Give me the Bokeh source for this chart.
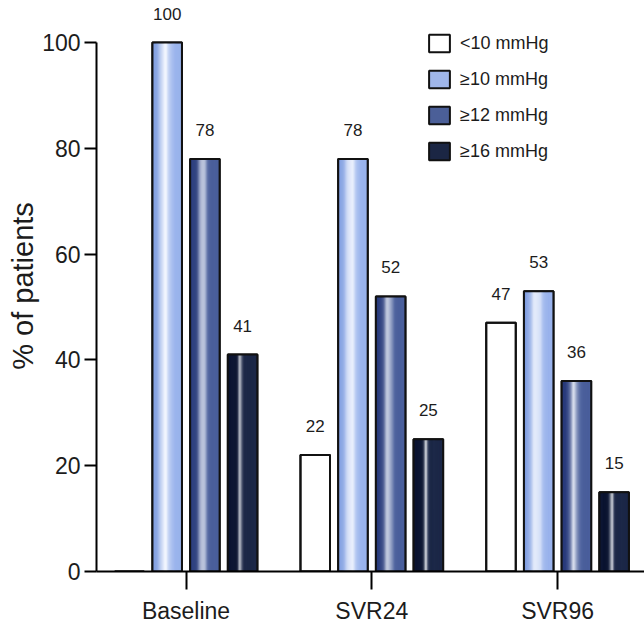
import numpy as np
from bokeh.plotting import figure
from bokeh.models import ColumnDataSource, Legend, LegendItem, LabelSet, FixedTicker, Range1d
from bokeh.core.properties import value
from bokeh.embed import file_html
from bokeh.resources import INLINE

# ---------------- data ----------------
groups = ["Baseline", "SVR24", "SVR96"]
series = ["<10 mmHg", "\u226510 mmHg", "\u226512 mmHg", "\u226516 mmHg"]
lt10 = [0, 22, 47]
ge10 = [100, 78, 53]
ge12 = [78, 52, 36]
ge16 = [41, 25, 15]
y_ticks = [0, 20, 40, 60, 80, 100]

values = [lt10, ge10, ge12, ge16]

# ---------------- style ----------------
FONT = "Liberation Sans"
TXT = "#1c1c1c"
pitch = 0.203
bw = 0.159
offsets = [(i - 1.5) * pitch for i in range(4)]
# (left edge, highlight, right edge, sigma)  None -> plain white
shades = [
    None,
    ("#7b9ae0", "#f2f6fe", "#98b2ec", 0.20),
    ("#27397a", "#d6dcec", "#4a5f9c", 0.14),
    ("#0a1330", "#c6cad4", "#1c2848", 0.07),
]
legend_cols = ["#ffffff", "#9fb6ea", "#4b5f98", "#1b2644"]
K = 26
t0 = 0.42


def hex2rgb(h):
    h = h.lstrip("#")
    return np.array([int(h[i:i + 2], 16) for i in (0, 2, 4)], dtype=float)


def rgb2hex(c):
    c = np.clip(np.round(c), 0, 255).astype(int)
    return "#%02x%02x%02x" % tuple(c)


p = figure(width=644, height=633, output_backend="svg", toolbar_location=None,
           x_range=Range1d(-0.482, 2.468), y_range=Range1d(0, 107.94),
           min_border_left=96, min_border_top=0, min_border_bottom=62,
           min_border_right=0)
p.outline_line_color = None
p.xgrid.visible = False
p.ygrid.visible = False
p.background_fill_color = "white"

legend_items = []
for si, (vals, off) in enumerate(zip(values, offsets)):
    xs = [gi + off for gi in range(len(groups))]
    src = ColumnDataSource(dict(x=xs, top=vals))
    # base renderer (used for legend)
    r = p.vbar(x="x", top="top", width=bw, source=src, fill_color=legend_cols[si],
               line_color="#111111", line_width=2)
    legend_items.append(LegendItem(label=series[si], renderers=[r]))
    sh = shades[si]
    if sh is not None:
        left, hi, right, sig = hex2rgb(sh[0]), hex2rgb(sh[1]), hex2rgb(sh[2]), sh[3]
        sx, stop, scol = [], [], []
        for gi, v in enumerate(vals):
            for k in range(K):
                t = (k + 0.5) / K
                g = np.exp(-((t - t0) / sig) ** 2)
                edge = left if t < t0 else right
                col = edge * (1 - g) + hi * g
                sx.append(gi + off - bw / 2 + t * bw)
                stop.append(v)
                scol.append(rgb2hex(col))
        ssrc = ColumnDataSource(dict(x=sx, top=stop, c=scol))
        p.vbar(x="x", top="top", width=bw / K * 1.08, source=ssrc,
               fill_color="c", line_color=None)
    # outline
    p.vbar(x="x", top="top", width=bw, source=src, fill_color=None,
           line_color="#111111", line_width=2)

    # value labels
    lx = [x for x, v in zip(xs, vals) if v > 0]
    lv = [v for v in vals if v > 0]
    lsrc = ColumnDataSource(dict(x=lx, y=lv, t=[str(v) for v in lv]))
    p.add_layout(LabelSet(x="x", y="y", text="t", source=lsrc, y_offset=23,
                          text_align="center", text_baseline="alphabetic",
                          text_font=value(FONT), text_font_size=value("17px"),
                          text_color=value(TXT)))

legend = Legend(items=legend_items, location=(330, 409), padding=0, margin=0,
                spacing=14, glyph_width=26, glyph_height=22, label_standoff=8,
                label_text_font=FONT, label_text_font_size="18px",
                label_text_color=TXT, border_line_color=None,
                background_fill_alpha=0)
p.add_layout(legend)

# axes
p.yaxis.ticker = FixedTicker(ticks=y_ticks)
p.yaxis.bounds = (0, 100)
p.yaxis.minor_tick_line_color = None
p.yaxis.major_tick_out = 12
p.yaxis.major_tick_in = 0
p.yaxis.axis_line_width = 2
p.yaxis.major_tick_line_width = 2
p.yaxis.major_label_standoff = 4
p.yaxis.major_label_text_font = FONT
p.yaxis.major_label_text_font_size = "23px"
p.yaxis.major_label_text_color = TXT
p.yaxis.axis_label = "% of patients"
p.yaxis.axis_label_text_font = FONT
p.yaxis.axis_label_text_font_size = "29px"
p.yaxis.axis_label_text_font_style = "normal"
p.yaxis.axis_label_text_color = TXT
p.yaxis.axis_label_standoff = 0

p.xaxis.ticker = FixedTicker(ticks=list(range(len(groups))))
p.xaxis.major_label_overrides = {i: g for i, g in enumerate(groups)}
p.xaxis.minor_tick_line_color = None
p.xaxis.major_tick_out = 18
p.xaxis.major_tick_in = 0
p.xaxis.axis_line_width = 2
p.xaxis.major_tick_line_width = 2
p.xaxis.major_label_standoff = 8
p.xaxis.major_label_text_font = FONT
p.xaxis.major_label_text_font_size = "23px"
p.xaxis.major_label_text_color = TXT

open("out.html", "w").write(file_html(p, INLINE))
